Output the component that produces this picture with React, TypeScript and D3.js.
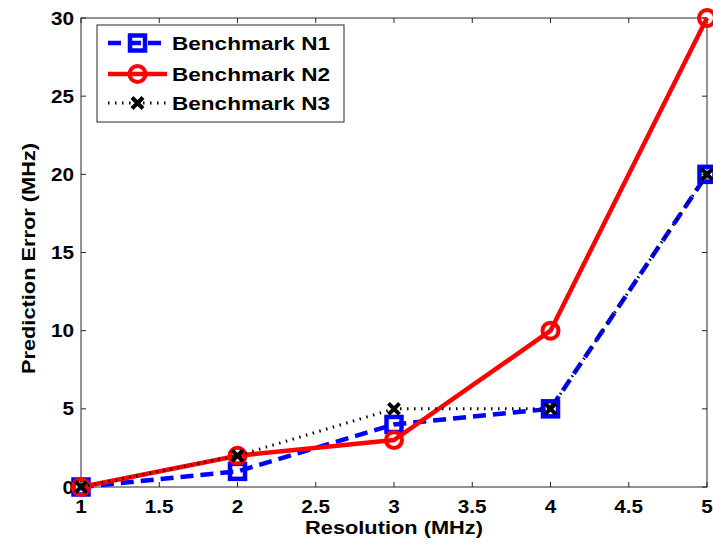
import React, { useEffect, useRef } from 'react'
import * as d3 from 'd3'

// data
const resolution = [1, 2, 3, 4, 5]
const benchN1 = [0, 1, 4, 5, 20]
const benchN2 = [0, 2, 3, 10, 30]
const benchN3 = [0, 2, 5, 5, 20]
const seriesNames = ['Benchmark N1', 'Benchmark N2', 'Benchmark N3']
const xTicks = [1, 1.5, 2, 2.5, 3, 3.5, 4, 4.5, 5]
const yTicks = [0, 5, 10, 15, 20, 25, 30]

const W = 713
const H = 545
const margin = { top: 18, right: 6, bottom: 58, left: 81 }

export default function App() {
  const ref = useRef<SVGSVGElement>(null)

  useEffect(() => {
    const svg = d3.select(ref.current)
    svg.selectAll('*').remove()

    const x = d3.scaleLinear().domain([1, 5]).range([margin.left, W - margin.right])
    const y = d3.scaleLinear().domain([0, 30]).range([H - margin.bottom, margin.top])
    const font = '"Liberation Sans", Arial, sans-serif'

    // matlab screen font is wider than Arial, stretch it a bit
    const stretch = (sel: any, k: number) => {
      sel.each(function (this: SVGTextElement) {
        const len = this.getComputedTextLength()
        d3.select(this).attr('textLength', len * k).attr('lengthAdjust', 'spacingAndGlyphs')
      })
    }

    // 坐标框
    const x0 = x(1), x1 = x(5), y0 = y(0), y1 = y(30)
    svg.append('rect')
      .attr('x', x0).attr('y', y1)
      .attr('width', x1 - x0).attr('height', y0 - y1)
      .attr('fill', '#fff').attr('stroke', '#262626').attr('stroke-width', 1)

    // ticks inward on all four sides
    const tl = 5
    const tg = svg.append('g').attr('stroke', '#262626').attr('stroke-width', 1)
    xTicks.forEach(t => {
      tg.append('line').attr('x1', x(t)).attr('x2', x(t)).attr('y1', y0).attr('y2', y0 - tl)
      tg.append('line').attr('x1', x(t)).attr('x2', x(t)).attr('y1', y1).attr('y2', y1 + tl)
    })
    yTicks.forEach(t => {
      tg.append('line').attr('x1', x0).attr('x2', x0 + tl).attr('y1', y(t)).attr('y2', y(t))
      tg.append('line').attr('x1', x1).attr('x2', x1 - tl).attr('y1', y(t)).attr('y2', y(t))
    })

    const xt = svg.append('g').selectAll('text').data(xTicks).enter().append('text')
      .attr('x', d => x(d)).attr('y', 513)
      .attr('text-anchor', 'middle')
      .style('font', `bold 18px ${font}`)
      .text(d => d)
    stretch(xt, 1.15)

    const yt = svg.append('g').selectAll('text').data(yTicks).enter().append('text')
      .attr('x', 74).attr('y', d => y(d) + 6.5)
      .attr('text-anchor', 'end')
      .style('font', `bold 18px ${font}`)
      .text(d => d)
    stretch(yt, 1.15)

    const xl = svg.append('text')
      .attr('x', (x0 + x1) / 2).attr('y', 534)
      .attr('text-anchor', 'middle')
      .style('font', `bold 18px ${font}`)
      .text('Resolution (MHz)')
    stretch(xl, 1.21)

    const yl = svg.append('text')
      .attr('transform', `translate(35, ${(y0 + y1) / 2 + 6}) rotate(-90)`)
      .attr('text-anchor', 'middle')
      .style('font', `bold 18px ${font}`)
      .text('Prediction Error (MHz)')
    stretch(yl, 1.21)

    // 三条线
    const styles = [
      { values: benchN1, color: '#0000ff', width: 4.5, dash: '13,7', marker: 'square' },
      { values: benchN2, color: '#ff0000', width: 4.5, dash: null, marker: 'circle' },
      { values: benchN3, color: '#000000', width: 3, dash: '1.5,5.5', marker: 'cross' },
    ]

    const drawMarker = (g: any, kind: string, cx: number, cy: number, color: string) => {
      if (kind === 'square') {
        g.append('rect').attr('x', cx - 7.5).attr('y', cy - 7.5).attr('width', 15).attr('height', 15)
          .attr('fill', 'none').attr('stroke', color).attr('stroke-width', 4.5)
      } else if (kind === 'circle') {
        g.append('circle').attr('cx', cx).attr('cy', cy).attr('r', 8)
          .attr('fill', 'none').attr('stroke', color).attr('stroke-width', 4)
      } else {
        const s = 5.5
        g.append('path')
          .attr('d', `M${cx - s},${cy - s}L${cx + s},${cy + s}M${cx - s},${cy + s}L${cx + s},${cy - s}`)
          .attr('stroke', color).attr('stroke-width', 4).attr('fill', 'none')
      }
    }

    const line = d3.line<number>().x((d, i) => x(resolution[i])).y(d => y(d))

    styles.forEach(s => {
      const g = svg.append('g')
      g.append('path')
        .attr('d', line(s.values))
        .attr('fill', 'none')
        .attr('stroke', s.color)
        .attr('stroke-width', s.width)
        .attr('stroke-dasharray', s.dash)
      s.values.forEach((v, i) => drawMarker(g, s.marker, x(resolution[i]), y(v), s.color))
    })

    // 图例
    const leg = svg.append('g')
    leg.append('rect')
      .attr('x', 97).attr('y', 25).attr('width', 247).attr('height', 97)
      .attr('fill', '#fff').attr('stroke', '#262626').attr('stroke-width', 1)
    const rows = [43, 74, 103]
    styles.forEach((s, i) => {
      const ly = rows[i]
      leg.append('line')
        .attr('x1', 108).attr('x2', 167).attr('y1', ly).attr('y2', ly)
        .attr('stroke', s.color).attr('stroke-width', s.width)
        .attr('stroke-dasharray', s.dash)
      drawMarker(leg, s.marker, 137.5, ly, s.color)
      leg.append('text')
        .attr('x', 172).attr('y', ly + 6.5)
        .attr('textLength', 158).attr('lengthAdjust', 'spacingAndGlyphs')
        .style('font', `bold 18px ${font}`)
        .text(seriesNames[i])
    })
  }, [])

  return (
    <svg ref={ref} width={W} height={H} style={{ position: 'absolute', left: 0, top: 0, background: '#fff' }} />
  )
}
